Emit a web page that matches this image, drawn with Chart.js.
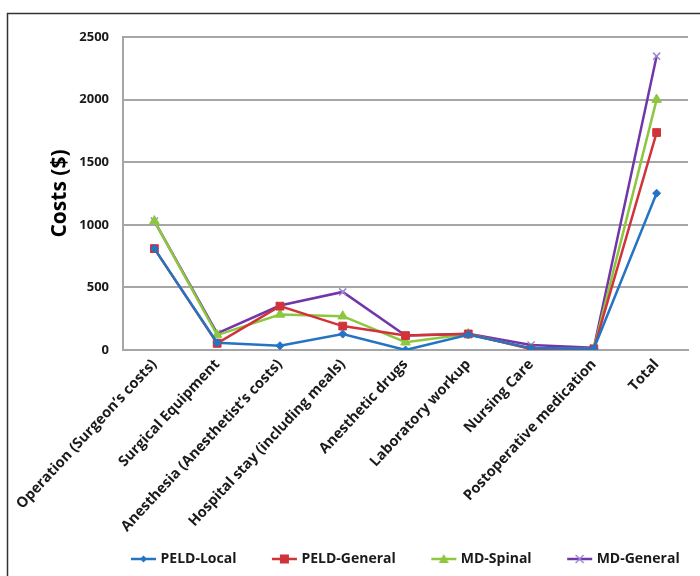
<!DOCTYPE html>
<html>
<head>
<meta charset="utf-8">
<script src="https://cdn.jsdelivr.net/npm/chart.js@4"></script>
<style>
  html, body { margin: 0; padding: 0; background: #fff; }
  #wrap { position: relative; width: 700px; height: 576px; }
</style>
</head>
<body>
<div id="wrap"><canvas id="c" width="700" height="576"></canvas></div>
<script>
const categories = [
  "Operation (Surgeon\u2019s costs)",
  "Surgical Equipment",
  "Anesthesia (Anesthetist\u2019s costs)",
  "Hospital stay (including meals)",
  "Anesthetic drugs",
  "Laboratory workup",
  "Nursing Care",
  "Postoperative medication",
  "Total"
];
const seriesNames = ["PELD-Local", "PELD-General", "MD-Spinal", "MD-General"];
const peldLocal   = [810, 58, 34, 127, 0, 122, 15, 10, 1252];
const peldGeneral = [810, 53, 350, 191, 115, 128, 8, 8, 1737];
const mdSpinal    = [1030, 119, 284, 270, 62, 128, 10, 10, 2000];
const mdGeneral   = [1030, 133, 355, 464, 115, 130, 40, 18, 2347];
const yTicks = [0, 500, 1000, 1500, 2000, 2500];

const lineColors   = ["#2474c3", "#d1333b", "#8dc63f", "#7136a8"];
const markerColors = ["#2474c3", "#d1333b", "#8dc63f", "#9b86d0"];
const markerStyles = ["rectRot", "rect", "triangle", "crossRot"];
const markerRadii  = [4, 5.5, 5.5, 5];

const BOX_W = 48;      // legend box width (includes leading gap)
const LEGEND_PAD = 10;

function legendIcon(i) {
  const cv = document.createElement('canvas');
  const w = BOX_W + 7, h = 12;
  cv.width = w; cv.height = h;
  const ctx = cv.getContext('2d');
  const x0 = w - 25 - 1, x1 = w - 1;
  ctx.strokeStyle = lineColors[i];
  ctx.lineWidth = 2.5;
  ctx.beginPath(); ctx.moveTo(x0, h/2); ctx.lineTo(x1, h/2); ctx.stroke();
  const cx = (x0 + x1) / 2, cy = h/2;
  ctx.fillStyle = markerColors[i];
  ctx.strokeStyle = markerColors[i];
  if (i === 0) {
    ctx.beginPath(); ctx.moveTo(cx, cy-3.5); ctx.lineTo(cx+3.5, cy); ctx.lineTo(cx, cy+3.5); ctx.lineTo(cx-3.5, cy); ctx.closePath(); ctx.fill();
  } else if (i === 1) {
    ctx.fillRect(cx-4.5, cy-4.5, 9, 9);
  } else if (i === 2) {
    ctx.beginPath(); ctx.moveTo(cx, cy-5); ctx.lineTo(cx+5, cy+4); ctx.lineTo(cx-5, cy+4); ctx.closePath(); ctx.fill();
  } else {
    ctx.lineWidth = 1.5;
    ctx.beginPath(); ctx.moveTo(cx-4, cy-4); ctx.lineTo(cx+4, cy+4); ctx.moveTo(cx+4, cy-4); ctx.lineTo(cx-4, cy+4); ctx.stroke();
  }
  return cv;
}
const icons = [0,1,2,3].map(legendIcon);

const allData = [peldLocal, peldGeneral, mdSpinal, mdGeneral];
const datasets = allData.map((d, i) => ({
  label: seriesNames[i],
  data: d,
  borderColor: lineColors[i],
  backgroundColor: markerColors[i],
  pointBackgroundColor: markerColors[i],
  pointBorderColor: markerColors[i],
  pointStyle: markerStyles[i],
  pointRadius: markerRadii[i],
  pointBorderWidth: i === 3 ? 1.5 : 1,
  borderWidth: 2.5,
  tension: 0,
  fill: false
}));

const frame = {
  id: 'frame',
  afterLayout(chart) {
    if (chart.legend) {
      chart.legend.left = 105.5 - LEGEND_PAD;
      chart.legend.right = 760;
    }
  },
  afterDraw(chart) {
    const ctx = chart.ctx;
    ctx.save();
    ctx.strokeStyle = '#333';
    ctx.lineWidth = 1.5;
    ctx.beginPath();
    ctx.moveTo(7.5, 580); ctx.lineTo(7.5, 13.5); ctx.lineTo(702, 13.5);
    ctx.stroke();
    ctx.restore();
  }
};

const FONT = "'Open Sans', 'DejaVu Sans', sans-serif";
new Chart(document.getElementById('c'), {
  type: 'line',
  data: { labels: categories, datasets },
  plugins: [frame],
  options: {
    responsive: false,
    animation: false,
    devicePixelRatio: 1,
    layout: { padding: { top: 37, right: 12, left: 0, bottom: 0 } },
    plugins: {
      legend: {
        position: 'bottom',
        align: 'start',
        labels: {
          font: { family: FONT, size: 14, weight: 'bold' },
          color: '#1a1a1a',
          usePointStyle: true,
          pointStyleWidth: BOX_W,
          padding: LEGEND_PAD,
          generateLabels(chart) {
            return chart.data.datasets.map((ds, i) => ({
              text: ds.label,
              pointStyle: icons[i],
              fillStyle: lineColors[i],
              strokeStyle: lineColors[i],
              lineWidth: 0,
              datasetIndex: i,
              fontColor: '#1a1a1a'
            }));
          }
        }
      },
      tooltip: { enabled: false }
    },
    scales: {
      x: {
        offset: true,
        grid: { display: false, drawTicks: false },
        border: { display: true, color: '#a6a6a6', width: 2 },
        ticks: {
          autoSkip: false,
          minRotation: 47, maxRotation: 47,
          padding: 6,
          font: { family: FONT, size: 14.5, weight: 'bold' },
          color: '#1a1a1a'
        },
        afterFit(scale) { scale.height = 192; }
      },
      y: {
        min: 0, max: 2500,
        afterBuildTicks(scale) { scale.ticks = yTicks.map(v => ({ value: v })); },
        grid: { color: '#a6a6a6', lineWidth: 2, drawTicks: false },
        border: { display: true, color: '#a6a6a6', width: 2 },
        ticks: {
          padding: 14,
          font: { family: FONT, size: 13, weight: 'bold' },
          color: '#1a1a1a',
          callback: (v) => String(v)
        },
        title: {
          display: true,
          text: 'Costs ($)',
          font: { family: FONT, size: 21, weight: 'bold' },
          color: '#000',
          padding: { top: 47, bottom: 0 }
        },
        afterFit(scale) { scale.width = 123; }
      }
    }
  }
});
</script>
</body>
</html>
